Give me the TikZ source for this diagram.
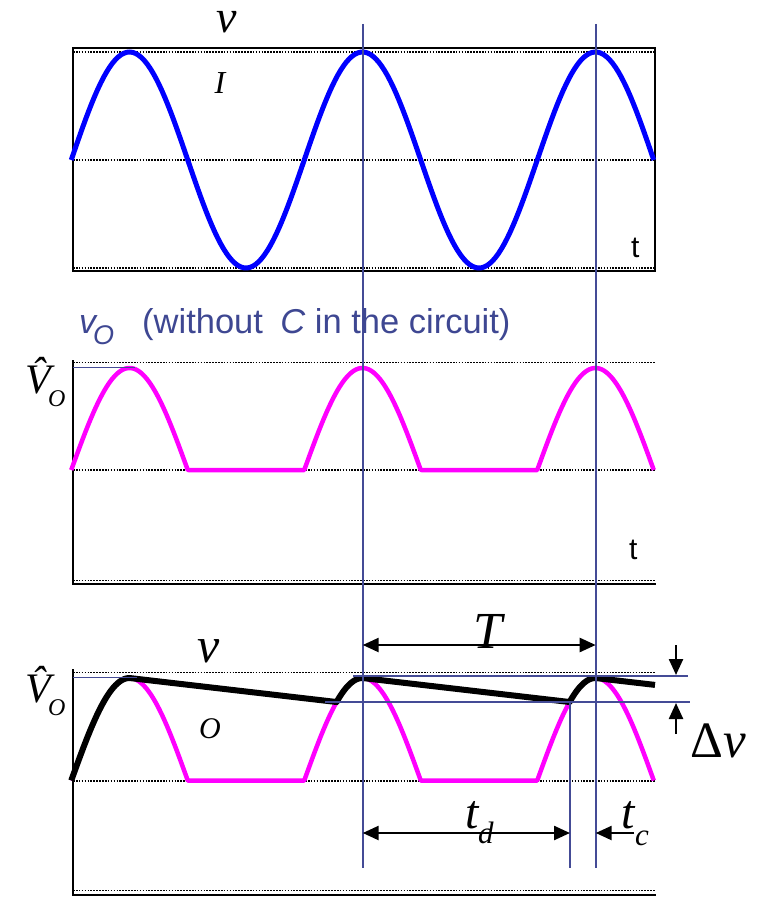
\documentclass[tikz,border=0pt]{standalone}
\usepackage{fontspec}
\setmainfont{Liberation Serif}
\setsansfont{Liberation Sans}
\usetikzlibrary{arrows.meta,calc,positioning}
\definecolor{WaveBlue}{HTML}{0000FF}
\definecolor{WaveMagenta}{HTML}{FF00FF}
\definecolor{MarkBlue}{HTML}{444B96}
\definecolor{CapBlue}{HTML}{3E4792}
\newcommand{\fsz}[1]{\fontsize{#1}{#1}\selectfont}

\begin{document}
\begin{tikzpicture}[x=1pt, y=-1pt, >={Triangle[length=16pt,width=14pt]},
    frame/.style={line width=1.8pt, black},
    dotline/.style={line width=1.5pt, black, dash pattern=on 1.6pt off 1.3pt},
    marker/.style={line width=1.6pt, MarkBlue},
    dimarrow/.style={line width=2.4pt, black},
    lbl/.style={inner sep=0pt, anchor=base west}]
    \useasboundingbox (0,0) rectangle (761,907);

    % Top panel: input voltage
    \draw[frame] (73,48) rectangle (655,271);
    \draw[dotline] (73,52) -- (655,52);
    \draw[dotline] (73,160) -- (655,160);
    \draw[dotline] (73,268) -- (655,268);
    \draw[WaveBlue, line width=5pt] plot[domain=71.25:653.75, samples=200] (\x, {160-108*sin((\x-71.25)/233*360)});

    % Middle panel: rectified output without C
    \draw[frame] (73,360) -- (73,584) -- (656,584);
    \draw[dotline] (73,362.5) -- (655,362.5);
    \draw[dotline] (73,470) -- (655,470);
    \draw[dotline] (73,580.5) -- (655,580.5);
    \draw[WaveMagenta, line width=4.5pt, line join=round] plot[domain=71.25:653.75, samples=301] (\x, {470-102*max(0,sin((\x-71.25)/233*360))});

    % Bottom panel: output with C
    \draw[frame] (73,669) -- (73,895) -- (656,895);
    \draw[dotline] (73,672.5) -- (655,672.5);
    \draw[dotline] (73,781) -- (655,781);
    \draw[dotline] (73,890.5) -- (655,890.5);
    \draw[WaveMagenta, line width=4.5pt, line join=round] plot[domain=71.25:653.75, samples=301] (\x, {780.5-102.5*max(0,sin((\x-71.25)/233*360))});
    \draw[black, line width=6pt, line join=round]
        plot[domain=71.25:129.5, samples=30] (\x, {780.5-102.5*sin((\x-71.25)/233*360)})
        -- (336.6,702)
        -- plot[domain=336.6:362.5, samples=15] (\x, {780.5-102.5*sin((\x-71.25)/233*360)})
        -- (569.6,702)
        -- plot[domain=569.6:595.5, samples=15] (\x, {780.5-102.5*sin((\x-71.25)/233*360)})
        -- (655,684.9);

    % Marker lines
    \coordinate (mkB) at (362.7,24);
    \coordinate (mkBend) at (362.7,868);
    \coordinate (mkC) at (595.7,24);
    \coordinate (mkCend) at (595.7,868);
    \coordinate (mkD) at (570,702);
    \coordinate (mkDend) at (570,868);
    \draw[marker] (mkB) -- (mkBend);
    \draw[marker] (mkC) -- (mkCend);
    \draw[marker] (mkD) -- (mkDend);
    \draw[marker] (73,367.5) -- (135,367.5);
    \draw[marker] (73,677.5) -- (137,677.5);
    \coordinate (hiL) at (353,676);
    \coordinate (hiR) at (688,676);
    \coordinate (loL) at (325,702);
    \coordinate (loR) at (690,702);
    \draw[marker] (hiL) -- (hiR);
    \draw[marker] (loL) -- (loR);

    % Dimension arrows
    \coordinate (Tl) at (362.7,645);
    \coordinate (Tr) at (595.7,645);
    \draw[dimarrow, <->] (Tl) -- (Tr);
    \coordinate (tdl) at (362.7,833);
    \coordinate (tdr) at (570,833);
    \draw[dimarrow, <->] (tdl) -- (tdr);
    \coordinate (tcs) at (634,833);
    \coordinate (tce) at (595.7,833);
    \draw[dimarrow, ->] (tcs) -- (tce);
    \coordinate (dvTop) at (676,645);
    \coordinate (dvTopEnd) at (676,675);
    \coordinate (dvBot) at (676,734);
    \coordinate (dvBotEnd) at (676,703);
    \draw[dimarrow, ->] (dvTop) -- (dvTopEnd);
    \draw[dimarrow, ->] (dvBot) -- (dvBotEnd);

    % Labels
    \node[lbl, anchor=base, text height=22pt, font=\fsz{46}\itshape] (vI) at (227,33) {v};
    \node[lbl, anchor=base, font=\fsz{32}\itshape] (vIsub) at (220,93) {I};
    \node[lbl, font=\fsz{30}\sffamily] (tTop) at (631,257) {t};
    \node[lbl, font=\fsz{30}\sffamily] (tMid) at (629,559) {t};
    \node[lbl, font=\fsz{34}\sffamily\itshape, text=CapBlue] (vO) at (79,333) {v};
    \node[lbl, font=\fsz{27}\sffamily\itshape, text=CapBlue] (vOsub) at (93,344) {O};
    \node[lbl, font=\fsz{34.5}\sffamily, text=CapBlue] (capnote) at (142,333) {(without\hspace{0.5em}\textit{C} in the circuit)};
    \node[lbl, font=\fsz{42}\itshape] (VhatMid) at (25,393) {\^{V}};
    \node[lbl, font=\fsz{24}\itshape] (VhatMidSub) at (48,406) {O};
    \node[lbl, font=\fsz{42}\itshape] (VhatBot) at (25,702) {\^{V}};
    \node[lbl, font=\fsz{24}\itshape] (VhatBotSub) at (48,715) {O};
    \node[lbl, anchor=base, font=\fsz{50}\itshape] (vOut) at (209,662) {v};
    \node[lbl, anchor=base, font=\fsz{30}\itshape] (vOutSub) at (210,738) {O};
    \node[lbl, anchor=base, font=\fsz{52}\itshape] (Tlbl) at (488,648) {T};
    \node[lbl, font=\fsz{51}] (dvlbl) at (690,757) {Δ\textit{v}};
    \node[lbl, font=\fsz{48}\itshape] (td) at (465,828) {t};
    \node[lbl, font=\fsz{31}\itshape] (tdsub) at (478,843) {d};
    \node[lbl, font=\fsz{48}\itshape] (tc) at (621,828) {t};
    \node[lbl, font=\fsz{31}\itshape] (tcsub) at (635,845) {c};
\end{tikzpicture}
\end{document}
